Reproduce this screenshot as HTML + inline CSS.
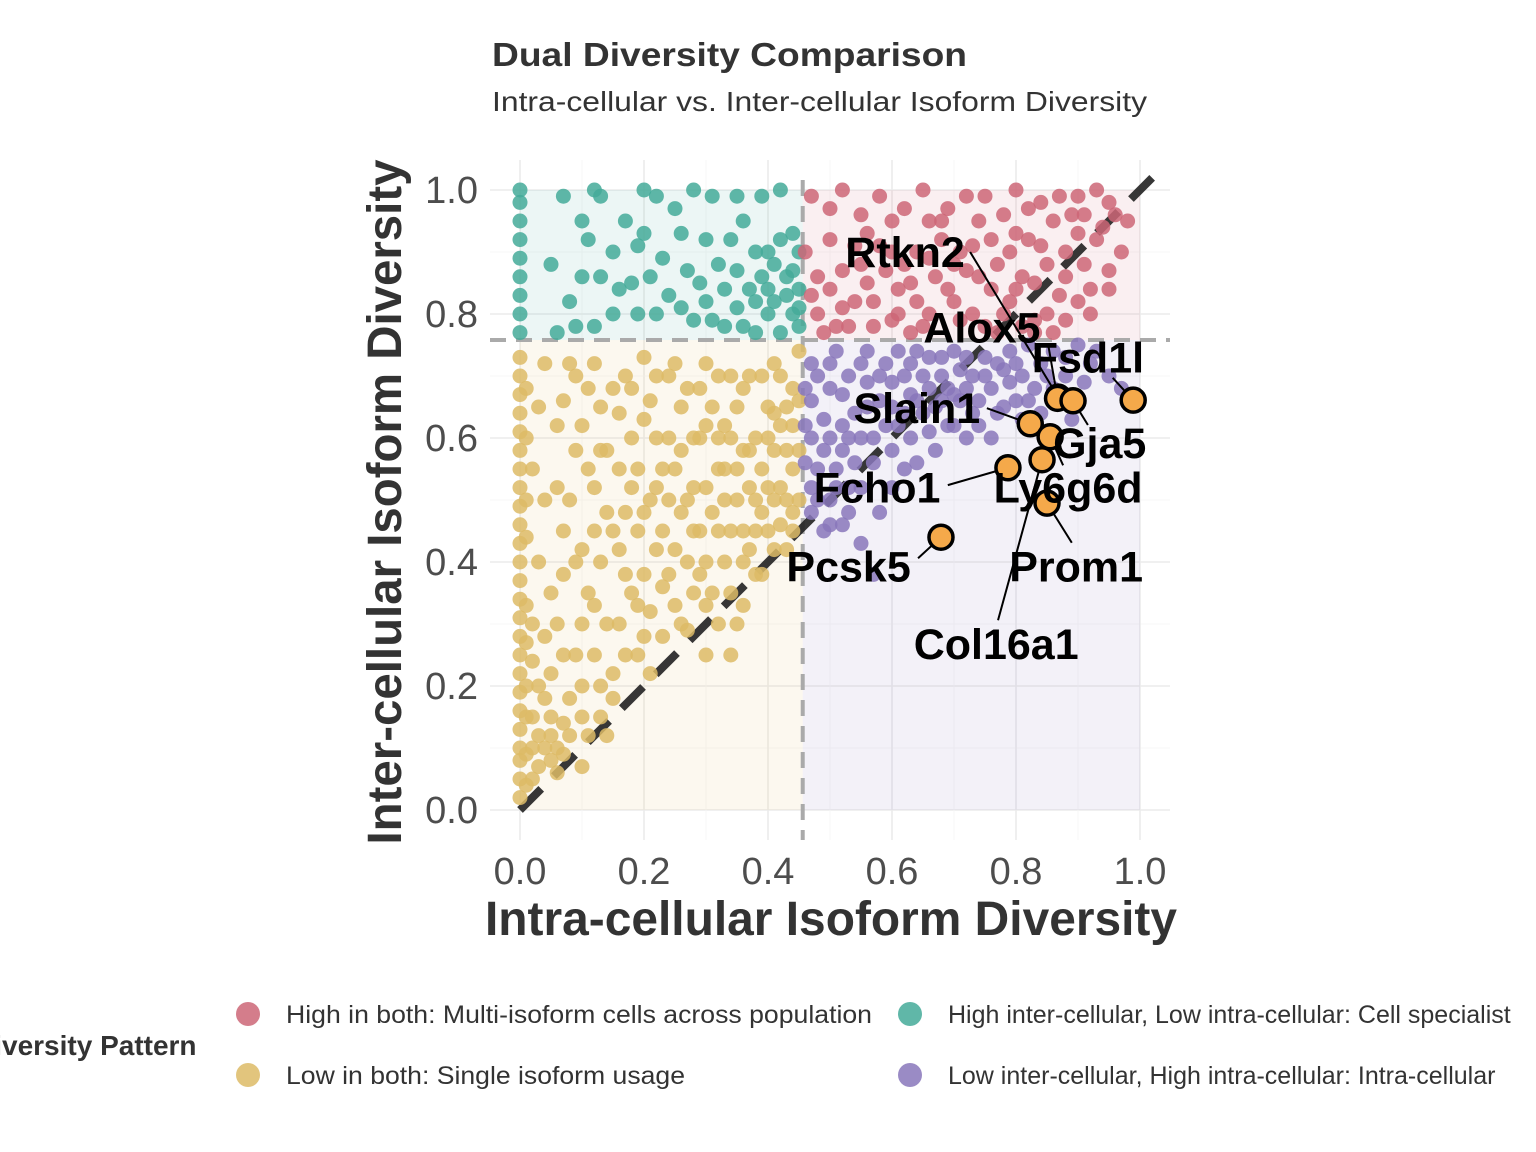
<!DOCTYPE html>
<html><head><meta charset="utf-8"><style>
html,body{margin:0;padding:0;background:#fff;}
svg{display:block;font-family:"Liberation Sans",Arial,sans-serif;}
</style></head><body>
<svg id="chart" width="1536" height="1152" viewBox="0 0 1536 1152" xmlns="http://www.w3.org/2000/svg">
<text x="492" y="66" font-size="33" font-weight="bold" fill="#333" textLength="475" lengthAdjust="spacingAndGlyphs">Dual Diversity Comparison</text>
<text x="492" y="111" font-size="28" fill="#333" textLength="655" lengthAdjust="spacingAndGlyphs">Intra-cellular vs. Inter-cellular Isoform Diversity</text>
<g id="grid"></g>
<g id="bg"></g>
<g id="refs"></g>
<g id="pts"></g>
<g id="hl"></g>
<g id="axes"></g>
<text x="831" y="935" font-size="48" font-weight="bold" fill="#333" text-anchor="middle" textLength="692" lengthAdjust="spacingAndGlyphs">Intra-cellular Isoform Diversity</text>
<text transform="translate(401,502) rotate(-90)" font-size="48" font-weight="bold" fill="#333" text-anchor="middle" textLength="685" lengthAdjust="spacingAndGlyphs">Inter-cellular Isoform Diversity</text>
<g>
<text x="-26" y="1055" font-size="28" font-weight="bold" fill="#333">Diversity Pattern</text>
<g><circle cx="248" cy="1014" r="12" fill="#CC6677" opacity="0.85"/><text x="286" y="1023" font-size="25" fill="#333" textLength="586" lengthAdjust="spacingAndGlyphs">High in both: Multi-isoform cells across population</text></g>
<g><circle cx="248" cy="1075" r="12" fill="#DDBB66" opacity="0.85"/><text x="286" y="1084" font-size="25" fill="#333" textLength="399" lengthAdjust="spacingAndGlyphs">Low in both: Single isoform usage</text></g>
<g><circle cx="910" cy="1014" r="12" fill="#44AA99" opacity="0.85"/><text x="948" y="1023" font-size="25" fill="#333">High inter-cellular, Low intra-cellular: Cell specialist</text></g>
<g><circle cx="910" cy="1075" r="12" fill="#8877BB" opacity="0.85"/><text x="948" y="1084" font-size="25" fill="#333">Low inter-cellular, High intra-cellular: Intra-cellular</text></g>
</g>
</svg>
<script>
const xTicks=[0,0.2,0.4,0.6,0.8,1.0];
const yTicks=[0,0.2,0.4,0.6,0.8,1.0];
const xThresh=0.456, yThresh=0.758;
const yellowPts=[[0,0.02],[0,0.05],[0,0.08],[0,0.1],[0,0.13],[0,0.16],[0,0.19],[0,0.22],[0,0.25],[0,0.28],[0,0.31],[0,0.34],[0,0.37],[0,0.4],[0,0.43],[0,0.46],[0,0.49],[0,0.52],[0,0.55],[0,0.58],[0,0.61],[0,0.64],[0,0.67],[0,0.7],[0,0.73],[0.01,0.04],[0.01,0.09],[0.01,0.15],[0.01,0.27],[0.01,0.44],[0.01,0.6],
[0.02,0.1],[0.03,0.2],[0.05,0.35],[0.04,0.5],[0.06,0.62],[0.08,0.72],[0.1,0.15],[0.1,0.3],[0.12,0.45],[0.13,0.58],[0.15,0.68],[0.15,0.22],[0.17,0.38],[0.18,0.52],[0.2,0.28],[0.2,0.63],[0.22,0.42],[0.23,0.55],[0.24,0.7],[0.25,0.33],[0.26,0.48],[0.28,0.6],[0.29,0.38],[0.3,0.52],[0.3,0.72],[0.32,0.45],[0.33,0.62],[0.34,0.35],[0.35,0.55],[0.36,0.68],[0.37,0.42],[0.38,0.5],[0.4,0.6],[0.4,0.45],[0.41,0.72],[0.42,0.52],[0.43,0.65],[0.44,0.48],[0.45,0.58],[0.35,0.3],[0.3,0.33],[0.38,0.38],[0.43,0.42],[0.1,0.07],[0.05,0.08],[0.07,0.25],[0.09,0.4],[0.11,0.55],[0.14,0.12],[0.16,0.3],[0.19,0.45],[0.21,0.22],[0.27,0.29],[0.31,0.65],[0.39,0.7],[0.06,0.06],[0.03,0.12],[0.08,0.18],[0.12,0.33],[0.22,0.6],[0.26,0.65],[0.34,0.7],[0.44,0.68],[0.42,0.46],[0.36,0.4],[0.28,0.45],[0.18,0.6],[0.14,0.48],[0.24,0.5],[0.32,0.55],[0.4,0.52],[0.25,0.72],[0.45,0.74],[0.34,0.25],[0.39,0.38],[0.05,0.15],[0.04,0.28],[0.07,0.45],[0.09,0.58],[0.11,0.68],[0.13,0.2],[0.16,0.42],[0.19,0.33],[0.21,0.5],[0.23,0.36],[0.27,0.4],[0.29,0.68],[0.33,0.5],[0.37,0.58],[0.41,0.64],[0.44,0.55],[0.02,0.05],[0.06,0.1],[0.17,0.7],[0.2,0.73],
[0.02,0.3],[0.03,0.4],[0.02,0.55],[0.03,0.65],[0.04,0.72],[0.05,0.22],[0.06,0.3],[0.06,0.52],[0.07,0.38],[0.07,0.66],[0.08,0.12],[0.08,0.5],[0.09,0.25],[0.09,0.7],[0.1,0.2],[0.1,0.42],[0.1,0.62],[0.11,0.35],[0.11,0.12],[0.12,0.25],[0.12,0.52],[0.12,0.72],[0.13,0.4],[0.13,0.65],[0.14,0.3],[0.14,0.58],[0.15,0.18],[0.15,0.45],[0.16,0.55],[0.16,0.64],[0.17,0.25],[0.17,0.48],[0.18,0.35],[0.18,0.68],[0.19,0.25],[0.19,0.55],[0.2,0.38],[0.2,0.48],[0.21,0.32],[0.21,0.66],[0.22,0.52],[0.22,0.7],[0.23,0.28],[0.23,0.45],[0.24,0.6],[0.24,0.38],[0.25,0.55],[0.25,0.42],[0.26,0.58],[0.26,0.3],[0.27,0.5],[0.27,0.68],[0.28,0.35],[0.28,0.52],[0.29,0.45],[0.29,0.6],[0.3,0.4],[0.3,0.62],[0.31,0.48],[0.31,0.35],[0.32,0.6],[0.32,0.7],[0.33,0.4],[0.33,0.55],[0.34,0.45],[0.34,0.6],[0.35,0.5],[0.35,0.65],[0.36,0.45],[0.36,0.58],[0.37,0.52],[0.37,0.7],[0.38,0.6],[0.38,0.45],[0.39,0.55],[0.39,0.48],[0.4,0.65],[0.41,0.5],[0.41,0.58],[0.42,0.62],[0.42,0.7],[0.43,0.5],[0.43,0.58],[0.44,0.62],[0.45,0.5],[0.45,0.66],[0.01,0.2],[0.01,0.33],[0.01,0.5],[0.01,0.68],[0.02,0.15],[0.02,0.24],[0.03,0.07],[0.04,0.1],[0.04,0.18],[0.05,0.12],[0.07,0.14],[0.07,0.09],[0.13,0.15],[0.3,0.25],[0.32,0.3],[0.36,0.33],[0.41,0.42],[0.44,0.45]];
const tealPts=[[0,0.77],[0,0.8],[0,0.83],[0,0.86],[0,0.89],[0,0.92],[0,0.95],[0,0.98],[0,1.0],[0.07,0.99],[0.12,1.0],[0.2,1.0],[0.28,1.0],[0.35,0.99],[0.42,1.0],[0.05,0.88],[0.1,0.95],[0.15,0.9],[0.2,0.93],[0.25,0.97],[0.3,0.92],[0.36,0.95],[0.4,0.9],[0.44,0.93],[0.08,0.82],[0.12,0.78],[0.18,0.85],[0.22,0.8],[0.27,0.87],[0.3,0.82],[0.33,0.78],[0.37,0.84],[0.4,0.8],[0.43,0.86],[0.45,0.78],[0.06,0.77],[0.15,0.8],[0.24,0.83],[0.32,0.88],[0.38,0.77],[0.41,0.88],[0.44,0.8],[0.28,0.79],[0.19,0.91],[0.13,0.86],[0.35,0.81],[0.42,0.77],[0.45,0.9],[0.23,0.89],[0.39,0.86],[0.43,0.83],[0.45,0.84],
[0.13,0.99],[0.22,0.99],[0.31,0.99],[0.39,0.99],[0.11,0.92],[0.17,0.95],[0.26,0.93],[0.34,0.92],[0.38,0.9],[0.42,0.92],[0.16,0.84],[0.21,0.86],[0.29,0.85],[0.35,0.87],[0.4,0.84],[0.44,0.87],[0.19,0.8],[0.26,0.81],[0.31,0.79],[0.36,0.78],[0.41,0.82],[0.45,0.81],[0.09,0.78],[0.1,0.86],[0.33,0.84],[0.38,0.82]];
const redPts=[[0.47,0.99],[0.52,1.0],[0.58,0.99],[0.65,1.0],[0.72,0.99],[0.8,1.0],[0.87,0.99],[0.93,1.0],[0.98,0.95],[0.5,0.92],[0.55,0.88],[0.6,0.95],[0.63,0.85],[0.68,0.92],[0.7,0.82],[0.74,0.95],[0.77,0.88],[0.8,0.93],[0.83,0.85],[0.86,0.95],[0.88,0.9],[0.9,0.82],[0.93,0.92],[0.95,0.87],[0.48,0.8],[0.5,0.84],[0.53,0.78],[0.57,0.82],[0.6,0.79],[0.64,0.9],[0.66,0.8],[0.72,0.87],[0.75,0.78],[0.79,0.82],[0.82,0.97],[0.85,0.8],[0.88,0.86],[0.91,0.96],[0.46,0.9],[0.55,0.96],[0.62,0.88],[0.69,0.97],[0.73,0.91],[0.78,0.96],[0.84,0.91],[0.9,0.93],[0.96,0.96],[0.52,0.87],[0.58,0.91],[0.67,0.86],[0.76,0.84],[0.81,0.78],[0.86,0.77],[0.92,0.84],[0.49,0.77],[0.63,0.77],[0.54,0.82],[0.61,0.84],[0.71,0.79],[0.66,0.95],[0.74,0.86],[0.83,0.79],
[0.5,0.97],[0.56,0.93],[0.62,0.97],[0.68,0.95],[0.75,0.99],[0.84,0.98],[0.9,0.99],[0.95,0.98],[0.48,0.86],[0.52,0.81],[0.56,0.85],[0.59,0.87],[0.61,0.8],[0.64,0.82],[0.66,0.89],[0.69,0.84],[0.71,0.9],[0.73,0.8],[0.76,0.92],[0.78,0.8],[0.79,0.9],[0.81,0.86],[0.82,0.92],[0.85,0.88],[0.87,0.83],[0.89,0.96],[0.91,0.88],[0.94,0.94],[0.97,0.9],[0.47,0.83],[0.51,0.78],[0.54,0.91],[0.57,0.78],[0.6,0.9],[0.65,0.78],[0.7,0.88],[0.77,0.77],[0.8,0.84],[0.83,0.77],[0.88,0.79],[0.92,0.8],[0.95,0.84]];
const purplePts=[[0.47,0.72],[0.5,0.68],[0.52,0.62],[0.55,0.72],[0.58,0.66],[0.6,0.58],[0.62,0.7],[0.65,0.64],[0.68,0.73],[0.7,0.67],[0.72,0.6],[0.75,0.7],[0.78,0.65],[0.8,0.72],[0.83,0.68],[0.86,0.74],[0.88,0.7],[0.9,0.75],[0.48,0.55],[0.5,0.5],[0.52,0.58],[0.55,0.52],[0.57,0.6],[0.6,0.65],[0.63,0.6],[0.66,0.68],[0.69,0.62],[0.74,0.66],[0.77,0.72],[0.81,0.63],[0.84,0.72],[0.47,0.48],[0.49,0.45],[0.52,0.46],[0.55,0.43],[0.57,0.38],[0.6,0.52],[0.64,0.56],[0.67,0.58],[0.71,0.71],[0.73,0.64],[0.76,0.6],[0.79,0.69],[0.82,0.75],[0.87,0.66],[0.92,0.72],[0.95,0.7],[0.46,0.62],[0.48,0.7],[0.53,0.7],[0.56,0.65],[0.59,0.72],[0.61,0.62],[0.64,0.74],[0.68,0.66],[0.7,0.74],[0.54,0.56],[0.58,0.48],[0.51,0.74],[0.62,0.55],[0.66,0.61],[0.75,0.73],[0.85,0.61],[0.89,0.63],[0.97,0.68],[0.5,0.6],[0.56,0.69],[0.63,0.67],[0.72,0.68],[0.8,0.66],
[0.47,0.66],[0.49,0.63],[0.5,0.72],[0.51,0.55],[0.52,0.67],[0.53,0.52],[0.54,0.64],[0.55,0.6],[0.56,0.74],[0.57,0.56],[0.58,0.7],[0.59,0.62],[0.6,0.69],[0.61,0.74],[0.62,0.64],[0.63,0.72],[0.64,0.66],[0.65,0.7],[0.66,0.73],[0.67,0.65],[0.68,0.7],[0.69,0.68],[0.7,0.62],[0.71,0.66],[0.72,0.73],[0.73,0.7],[0.74,0.62],[0.76,0.68],[0.77,0.64],[0.78,0.71],[0.79,0.74],[0.81,0.7],[0.82,0.66],[0.84,0.64],[0.85,0.7],[0.86,0.68],[0.88,0.73],[0.91,0.69],[0.93,0.74],[0.47,0.6],[0.48,0.5],[0.49,0.58],[0.5,0.46],[0.51,0.52],[0.53,0.6],[0.47,0.52],[0.53,0.48],[0.46,0.56],[0.46,0.68]];
const geneNames=["Rtkn2","Alox5","Fsd1l","Slain1","Gja5","Fcho1","Ly6g6d","Pcsk5","Prom1","Col16a1"];
const geneX=[0.868,0.867,0.989,0.823,0.892,0.787,0.855,0.679,0.850,0.842];
const geneY=[0.666,0.664,0.661,0.623,0.660,0.552,0.602,0.440,0.495,0.565];
const labelX=[0.621,0.745,0.916,0.64,0.935,0.576,0.884,0.53,0.897,0.768];
const labelY=[0.9,0.778,0.73,0.648,0.592,0.52,0.52,0.393,0.393,0.268];
const leadX=[0.726,0.852,0.956,0.753,0.916,0.69,0.876,0.642,0.89,0.771];
const leadY=[0.9,0.75,0.697,0.648,0.621,0.524,0.556,0.406,0.431,0.306];

const NS="http://www.w3.org/2000/svg";
const sx=v=>520+v*620, sy=v=>810-v*620;
function mk(tag,attrs,parent){const e=document.createElementNS(NS,tag);for(const k in attrs)e.setAttribute(k,attrs[k]);parent.appendChild(e);return e;}
const grid=document.getElementById('grid');
for(let i=0;i<=10;i++){
  const v=i/10, major=i%2===0;
  const l1=mk('line',{x1:sx(v),x2:sx(v),y1:160,y2:840,stroke:major?'#ebebeb':'#f5f5f5','stroke-width':major?1.6:0.8},grid);
  
  
  const l2=mk('line',{x1:490,x2:1170,y1:sy(v),y2:sy(v),stroke:major?'#ebebeb':'#f5f5f5','stroke-width':major?1.6:0.8},grid);
  
  
}
const bg=document.getElementById('bg');
const quads=[[0,xThresh,yThresh,1,'#44AA99','teal-quadrant'],[xThresh,1,yThresh,1,'#CC6677','red-quadrant'],[0,xThresh,0,yThresh,'#DDBB66','yellow-quadrant'],[xThresh,1,0,yThresh,'#8877BB','purple-quadrant']];
quads.forEach(q=>{const r=mk('rect',{x:sx(q[0]),y:sy(q[3]),width:sx(q[1])-sx(q[0]),height:sy(q[2])-sy(q[3]),fill:q[4],opacity:0.1},bg);
  
  });
const refs=document.getElementById('refs');
const vl=mk('line',{x1:sx(xThresh),x2:sx(xThresh),y1:180,y2:840,stroke:'#aaa','stroke-width':4,'stroke-dasharray':'16 10'},refs);


const hlin=mk('line',{x1:490,x2:1170,y1:sy(yThresh),y2:sy(yThresh),stroke:'#aaa','stroke-width':4,'stroke-dasharray':'16 10'},refs);


const pts=document.getElementById('pts');
function drawSeries(arr,color,name){arr.forEach(p=>{const c=mk('circle',{cx:sx(p[0]),cy:sy(p[1]),r:7.5,fill:color,opacity:0.85},pts);
  
  });}
const diag=mk('line',{x1:sx(0),y1:sy(0),x2:sx(1.04),y2:sy(1.04),stroke:'#222','stroke-width':8,'stroke-dasharray':'30 18',opacity:0.9},refs);


drawSeries(yellowPts,'#DDBB66','low-both-point');
drawSeries(tealPts,'#44AA99','high-inter-point');
drawSeries(redPts,'#CC6677','high-both-point');
drawSeries(purplePts,'#8877BB','low-inter-point');
const hl=document.getElementById('hl');
geneNames.forEach((n,i)=>{
  const ln=mk('line',{x1:sx(leadX[i]),y1:sy(leadY[i]),x2:sx(geneX[i]),y2:sy(geneY[i]),stroke:'#000','stroke-width':2},hl);
  
  
});
geneNames.forEach((n,i)=>{
  const c=mk('circle',{cx:sx(geneX[i]),cy:sy(geneY[i]),r:12,fill:'#F5A94A',stroke:'#000','stroke-width':3.5},hl);
  
  
});
geneNames.forEach((n,i)=>{
  const t=mk('text',{x:sx(labelX[i]),y:sy(labelY[i])+15,'font-size':43,'font-weight':'bold','text-anchor':'middle',fill:'#000'},hl);
  t.textContent=n;
  
  
});
const axes=document.getElementById('axes');
xTicks.forEach(v=>{const t=mk('text',{x:sx(v),y:884,'font-size':38,fill:'#4d4d4d','text-anchor':'middle'},axes);
  t.textContent=v.toFixed(1);
  
  });
yTicks.forEach(v=>{const t=mk('text',{x:478,y:sy(v)+13,'font-size':38,fill:'#4d4d4d','text-anchor':'end'},axes);
  t.textContent=v.toFixed(1);
  
  });
</script>
</body></html>
